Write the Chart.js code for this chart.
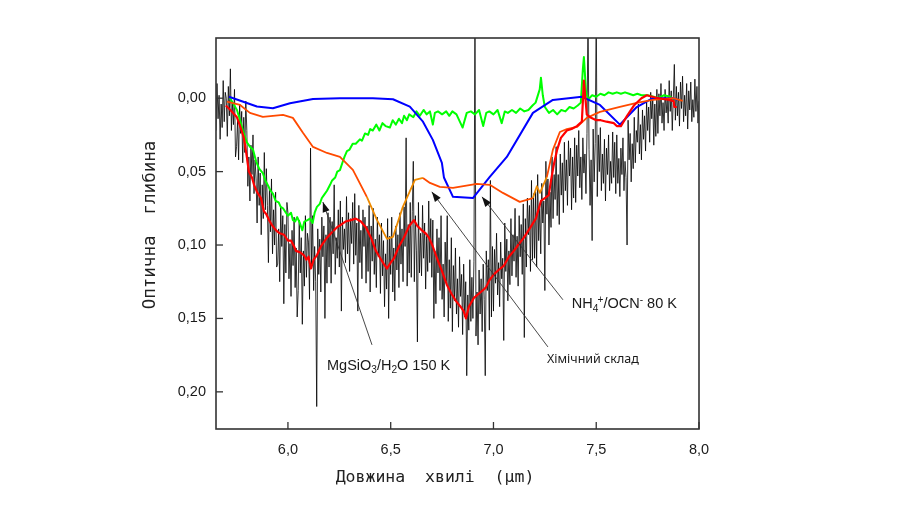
<!DOCTYPE html>
<html><head><meta charset="utf-8">
<script src="https://cdn.jsdelivr.net/npm/chart.js@4.4.0/dist/chart.umd.min.js"></script>
<style>html,body{margin:0;padding:0;background:#fff;}canvas{display:block;}</style>
</head><body>
<canvas id="c" width="899" height="506"></canvas>
<script>
// ---- tick values ----
const xTicks = [6.0, 6.5, 7.0, 7.5, 8.0];
const yTicks = [0.00, 0.05, 0.10, 0.15, 0.20];

// ---- observed spectrum (black) ----
const blackX = [
5.65,5.655,5.66,5.665,5.67,5.675,5.68,5.685,5.69,5.695,
5.7,5.705,5.71,5.715,5.72,5.725,5.73,5.735,5.74,5.745,
5.75,5.755,5.76,5.765,5.77,5.775,5.78,5.785,5.79,5.795,
5.8,5.805,5.81,5.815,5.82,5.825,5.83,5.835,5.84,5.845,
5.85,5.855,5.86,5.865,5.87,5.875,5.88,5.885,5.89,5.895,
5.9,5.905,5.91,5.915,5.92,5.925,5.93,5.935,5.94,5.945,
5.95,5.955,5.96,5.965,5.97,5.975,5.98,5.985,5.99,5.995,
6.0,6.005,6.01,6.015,6.02,6.025,6.03,6.035,6.04,6.045,
6.05,6.055,6.06,6.065,6.07,6.075,6.08,6.085,6.09,6.095,
6.1,6.105,6.11,6.115,6.12,6.125,6.13,6.135,6.14,6.145,
6.15,6.155,6.16,6.165,6.17,6.175,6.18,6.185,6.19,6.195,
6.2,6.205,6.21,6.215,6.22,6.225,6.23,6.235,6.24,6.245,
6.25,6.255,6.26,6.265,6.27,6.275,6.28,6.285,6.29,6.295,
6.3,6.305,6.31,6.315,6.32,6.325,6.33,6.335,6.34,6.345,
6.35,6.355,6.36,6.365,6.37,6.375,6.38,6.385,6.39,6.395,
6.4,6.405,6.41,6.415,6.42,6.425,6.43,6.435,6.44,6.445,
6.45,6.455,6.46,6.465,6.47,6.475,6.48,6.485,6.49,6.495,
6.5,6.505,6.51,6.515,6.52,6.525,6.53,6.535,6.54,6.545,
6.55,6.555,6.56,6.565,6.57,6.575,6.58,6.585,6.59,6.595,
6.6,6.605,6.61,6.615,6.62,6.625,6.63,6.635,6.64,6.645,
6.65,6.655,6.66,6.665,6.67,6.675,6.68,6.685,6.69,6.695,
6.7,6.705,6.71,6.715,6.72,6.725,6.73,6.735,6.74,6.745,
6.75,6.755,6.76,6.765,6.77,6.775,6.78,6.785,6.79,6.795,
6.8,6.805,6.81,6.815,6.82,6.825,6.83,6.835,6.84,6.845,
6.85,6.855,6.86,6.865,6.87,6.875,6.88,6.885,6.89,6.895,
6.9,6.905,6.91,6.915,6.92,6.925,6.93,6.935,6.94,6.945,
6.95,6.955,6.96,6.965,6.97,6.975,6.98,6.985,6.99,6.995,
7.0,7.005,7.01,7.015,7.02,7.025,7.03,7.035,7.04,7.045,
7.05,7.055,7.06,7.065,7.07,7.075,7.08,7.085,7.09,7.095,
7.1,7.105,7.11,7.115,7.12,7.125,7.13,7.135,7.14,7.145,
7.15,7.155,7.16,7.165,7.17,7.175,7.18,7.185,7.19,7.195,
7.2,7.205,7.21,7.215,7.22,7.225,7.23,7.235,7.24,7.245,
7.25,7.255,7.26,7.265,7.27,7.275,7.28,7.285,7.29,7.295,
7.3,7.305,7.31,7.315,7.32,7.325,7.33,7.335,7.34,7.345,
7.35,7.355,7.36,7.365,7.37,7.375,7.38,7.385,7.39,7.395,
7.4,7.405,7.41,7.415,7.42,7.425,7.43,7.435,7.44,7.445,
7.45,7.455,7.46,7.465,7.47,7.475,7.48,7.485,7.49,7.495,
7.5,7.505,7.51,7.515,7.52,7.525,7.53,7.535,7.54,7.545,
7.55,7.555,7.56,7.565,7.57,7.575,7.58,7.585,7.59,7.595,
7.6,7.605,7.61,7.615,7.62,7.625,7.63,7.635,7.64,7.645,
7.65,7.655,7.66,7.665,7.67,7.675,7.68,7.685,7.69,7.695,
7.7,7.705,7.71,7.715,7.72,7.725,7.73,7.735,7.74,7.745,
7.75,7.755,7.76,7.765,7.77,7.775,7.78,7.785,7.79,7.795,
7.8,7.805,7.81,7.815,7.82,7.825,7.83,7.835,7.84,7.845,
7.85,7.855,7.86,7.865,7.87,7.875,7.88,7.885,7.89,7.895,
7.9,7.905,7.91,7.915,7.92,7.925,7.93,7.935,7.94,7.945,
7.95,7.955,7.96,7.965,7.97,7.975,7.98,7.985,7.99,7.995,
8.0];
const blackY = [
0.022,-0.010,0.014,-0.002,0.028,0.004,0.020,-0.012,0.016,-0.004,
0.000,0.026,-0.008,0.012,-0.020,0.022,0.002,0.018,-0.006,0.040,
0.033,0.015,0.042,0.004,0.024,0.009,0.044,0.013,0.037,0.002,
0.022,0.060,0.040,0.070,0.032,0.052,0.025,0.065,0.042,0.055,
0.085,0.040,0.073,0.051,0.093,0.059,0.082,0.037,0.076,0.048,
0.073,0.112,0.061,0.091,0.055,0.106,0.076,0.100,0.064,0.115,
0.113,0.089,0.125,0.074,0.101,0.080,0.140,0.086,0.119,0.071,
0.078,0.123,0.099,0.135,0.090,0.114,0.081,0.129,0.102,0.149,
0.131,0.083,0.119,0.095,0.154,0.104,0.128,0.080,0.122,0.092,
0.098,0.137,0.034,0.116,0.080,0.131,0.101,0.125,0.210,0.089,
0.120,0.096,0.132,0.081,0.108,0.087,0.150,0.093,0.126,0.078,
0.115,0.081,0.126,0.084,0.106,0.059,0.120,0.095,0.109,0.076,
0.115,0.070,0.145,0.081,0.103,0.089,0.112,0.067,0.106,0.078,
0.118,0.082,0.099,0.071,0.113,0.065,0.107,0.085,0.145,0.073,
0.112,0.090,0.123,0.076,0.101,0.081,0.126,0.087,0.118,0.073,
0.132,0.087,0.111,0.075,0.120,0.096,0.129,0.081,0.108,0.093,
0.133,0.085,0.121,0.097,0.142,0.106,0.130,0.082,0.150,0.094,
0.120,0.081,0.132,0.102,0.138,0.087,0.117,0.093,0.129,0.078,
0.113,0.089,0.125,0.074,0.101,0.027,0.128,0.086,0.119,0.071,
0.122,0.077,0.043,0.125,0.080,0.104,0.166,0.071,0.119,0.092,
0.121,0.073,0.109,0.085,0.130,0.094,0.118,0.070,0.112,0.082,
0.122,0.083,0.150,0.104,0.140,0.089,0.119,0.095,0.131,0.080,
0.137,0.113,0.149,0.098,0.125,0.080,0.152,0.110,0.143,0.095,
0.159,0.114,0.138,0.102,0.147,0.123,0.156,0.108,0.135,0.120,
0.161,0.113,0.149,0.125,0.189,0.134,0.158,0.110,0.152,0.122,
0.150,0.111,-0.060,0.162,0.132,0.168,0.117,0.147,0.123,0.159,
0.113,0.137,0.189,0.104,0.131,0.110,0.158,0.056,0.149,0.101,
0.145,0.103,0.126,0.092,0.134,0.112,0.142,0.098,0.123,0.109,
0.165,0.085,0.118,0.096,0.138,0.104,0.127,0.082,0.121,0.093,
0.111,0.075,0.122,0.094,0.128,0.080,0.108,0.086,0.120,0.072,
0.163,0.082,0.115,0.068,0.093,0.073,0.118,0.056,0.110,0.065,
0.109,0.064,0.115,0.052,0.097,0.073,0.106,0.058,0.085,0.070,
0.131,0.043,0.079,0.055,0.100,0.064,0.088,0.040,0.082,0.052,
0.069,0.033,0.080,0.052,0.086,0.038,0.066,0.044,0.078,0.030,
0.063,0.042,0.073,0.029,0.053,0.034,0.076,0.040,0.068,0.027,
0.071,0.032,0.053,0.022,0.061,0.040,0.069,0.027,0.051,0.038,
0.065,0.024,-0.060,0.035,0.073,0.042,0.097,0.021,0.057,0.031,
-0.060,0.067,0.025,0.050,0.020,0.063,0.038,0.058,0.028,0.070,
0.034,0.052,0.025,0.063,0.043,0.058,0.023,0.054,0.030,0.065,
0.025,0.058,0.041,0.067,0.034,0.052,0.027,0.063,0.043,0.054,
0.100,0.015,0.042,0.024,0.057,0.031,0.048,0.013,0.044,0.022,
0.030,0.004,0.038,0.018,0.042,0.008,0.028,0.012,0.036,0.002,
0.022,0.006,0.030,-0.004,0.014,0.000,0.032,0.004,0.026,-0.006,
0.024,-0.003,0.012,-0.010,0.017,0.003,0.022,-0.006,0.010,0.001,
0.017,-0.012,0.009,-0.005,0.022,0.000,-0.023,0.015,-0.008,0.012,
-0.004,0.019,-0.011,0.007,-0.015,0.016,-0.002,0.012,-0.010,0.021,
-0.005,0.008,-0.011,0.016,0.001,0.013,-0.013,0.009,-0.008,0.017,
0.002];

// ---- chemical composition model (red) ----
const redX = [5.698,5.72,5.752,5.77,5.786,5.80,5.81,5.825,5.835,5.85,5.869,5.883,5.895,5.908,5.925,5.942,5.96,5.981,6.00,6.015,
6.03,6.039,6.06,6.078,6.09,6.10,6.112,6.125,6.141,6.16,6.19,6.21,6.238,6.26,6.28,6.306,6.33,6.355,6.38,6.404,
6.428,6.445,6.467,6.482,6.50,6.516,6.54,6.564,6.59,6.613,6.63,6.652,6.67,6.686,6.705,6.725,6.75,6.773,6.795,6.817,
6.84,6.855,6.866,6.88,6.905,6.93,6.963,6.98,7.002,7.025,7.051,7.075,7.099,7.12,7.148,7.175,7.206,7.231,7.25,7.269,
7.28,7.294,7.31,7.328,7.357,7.38,7.406,7.43,7.44,7.454,7.47,7.50,7.522,7.55,7.586,7.60,7.62,7.65,7.683,7.72,
7.746,7.80,7.85,7.877,7.88,7.892];
const redY = [0.005,0.008,0.013,0.020,0.027,0.040,0.050,0.054,0.059,0.064,0.068,0.077,0.079,0.083,0.087,0.090,0.092,0.093,0.097,0.097,
0.101,0.104,0.105,0.107,0.110,0.108,0.116,0.110,0.107,0.101,0.095,0.092,0.088,0.086,0.084,0.083,0.082,0.084,0.088,0.095,
0.104,0.108,0.113,0.116,0.112,0.109,0.101,0.095,0.087,0.083,0.087,0.090,0.092,0.095,0.101,0.109,0.118,0.127,0.133,0.138,
0.142,0.145,0.150,0.142,0.136,0.133,0.129,0.124,0.120,0.117,0.114,0.108,0.104,0.100,0.095,0.089,0.082,0.070,0.068,0.066,
0.056,0.045,0.035,0.027,0.022,0.021,0.019,0.016,-0.012,0.011,0.013,0.015,0.015,0.016,0.017,0.019,0.019,0.012,0.005,0.000,
-0.002,0.000,0.001,0.002,0.006,0.006];

// ---- MgSiO3/H2O 150 K (green) ----
const greenX = [5.718,5.735,5.752,5.765,5.781,5.79,5.80,5.815,5.83,5.845,5.86,5.878,5.89,5.905,5.915,5.927,5.94,5.955,5.965,5.976,
5.99,6.00,6.015,6.024,6.035,6.045,6.058,6.07,6.08,6.095,6.107,6.12,6.13,6.141,6.155,6.165,6.175,6.19,6.205,6.215,
6.23,6.24,6.253,6.265,6.275,6.287,6.30,6.315,6.33,6.35,6.36,6.375,6.39,6.40,6.413,6.43,6.445,6.46,6.475,6.496,
6.51,6.525,6.54,6.555,6.565,6.579,6.59,6.61,6.625,6.642,6.66,6.675,6.691,6.705,6.715,6.73,6.75,6.77,6.785,6.80,
6.82,6.85,6.87,6.89,6.91,6.93,6.95,6.965,6.98,7.00,7.02,7.04,7.055,7.07,7.09,7.11,7.13,7.15,7.17,7.19,
7.205,7.225,7.231,7.24,7.25,7.27,7.29,7.31,7.33,7.35,7.37,7.39,7.41,7.425,7.435,7.44,7.45,7.46,7.48,7.50,
7.52,7.54,7.56,7.58,7.60,7.62,7.64,7.66,7.68,7.70,7.72,7.75,7.78,7.80,7.83,7.86,7.87,7.88];
const greenY = [0.000,0.004,0.008,0.014,0.022,0.026,0.030,0.033,0.035,0.043,0.048,0.051,0.056,0.060,0.063,0.065,0.070,0.071,0.074,0.075,
0.078,0.080,0.078,0.083,0.084,0.081,0.085,0.090,0.084,0.083,0.082,0.085,0.078,0.074,0.072,0.068,0.066,0.063,0.059,0.056,
0.054,0.050,0.049,0.044,0.040,0.036,0.035,0.031,0.031,0.028,0.029,0.024,0.025,0.021,0.022,0.018,0.022,0.017,0.019,0.020,
0.015,0.018,0.014,0.017,0.012,0.015,0.011,0.013,0.009,0.012,0.008,0.011,0.009,0.018,0.010,0.009,0.011,0.009,0.012,0.009,
0.011,0.020,0.010,0.009,0.011,0.008,0.019,0.010,0.009,0.011,0.008,0.017,0.009,0.010,0.008,0.010,0.007,0.009,0.008,0.005,
0.003,-0.006,-0.014,-0.002,0.006,0.010,0.008,0.011,0.008,0.009,0.006,0.007,0.005,0.003,-0.020,-0.028,-0.005,0.001,-0.002,-0.001,
-0.003,-0.002,-0.004,-0.003,-0.004,-0.003,-0.004,-0.003,-0.002,-0.003,-0.002,-0.002,-0.001,0.000,-0.002,-0.001,0.000,0.002];

// ---- NH4+/OCN- 80 K (blue) ----
const blueX = [5.713,5.849,5.927,6.010,6.122,6.253,6.413,6.511,6.593,6.657,6.705,6.749,6.759,6.803,6.900,6.982,7.065,7.192,7.289,7.430,7.518,7.615,7.697,7.775,7.873,7.897];
const blueY = [-0.001,0.0057,0.0068,0.0034,0.0005,0.000,0.000,0.0007,0.0057,0.016,0.0284,0.044,0.054,0.0672,0.068,0.0536,0.040,0.010,0.0012,-0.001,0.0046,0.018,0.006,0.000,0.000,0.001];

// ---- combined laboratory fit (orange) ----
const orangeX = [5.703,5.767,5.815,5.878,5.976,6.024,6.073,6.122,6.190,6.253,6.316,6.384,6.433,6.482,6.511,6.559,6.618,6.657,6.691,6.739,
6.803,6.919,6.982,7.046,7.128,7.192,7.211,7.226,7.260,7.289,7.323,7.357,7.406,7.454,7.518,7.615,7.697,7.775,7.873,7.921];
const orangeY = [0.0023,0.0046,0.010,0.0127,0.0114,0.0134,0.0236,0.0332,0.0373,0.040,0.0488,0.0672,0.0829,0.0958,0.0945,0.074,0.0557,0.0543,0.0577,0.0604,
0.0611,0.0584,0.059,0.0645,0.0706,0.068,0.060,0.0645,0.0536,0.0352,0.023,0.021,0.0196,0.0134,0.0093,0.0059,0.0032,0.0012,0.000,0.0018];

const pts = (xs, ys) => xs.map((v, i) => ({x: v, y: ys[i]}));

const annotations = [
  {tail: [6.409, 0.168], tip: [6.170, 0.0707], at: [6.190, 0.1825],
   parts: [['MgSiO'],['3','sub'],['/H'],['2','sub'],['O 150 K']], font: 'Liberation Sans', size: 14.5},
  {tail: [7.338, 0.1373], tip: [6.944, 0.0672], at: [7.381, 0.1405],
   parts: [['NH'],['4','sub'],['+','sup'],['/OCN'],['-','sup'],[' 80 K']], font: 'Liberation Sans', size: 14.5},
  {tail: [7.265, 0.1694], tip: [6.700, 0.0638], at: [7.260, 0.178],
   parts: [['Хімічний склад']], font: 'Noto Sans', size: 12.5}
];

function drawRich(ctx, parts, x, y, font, size) {
  ctx.textBaseline = 'middle';
  ctx.textAlign = 'left';
  let cx = x;
  let prevSubW = 0;
  parts.forEach(([t, kind]) => {
    let s = size, dy = 0;
    if (kind === 'sub') { s = size * 0.7; dy = size * 0.3; }
    if (kind === 'sup') { s = size * 0.7; dy = -size * 0.32; }
    ctx.font = s + 'px "' + font + '"';
    if (kind === 'sup' && prevSubW) { cx -= prevSubW * 0.15; }
    ctx.fillText(t, cx, y + dy);
    const w = ctx.measureText(t).width;
    cx += w;
    prevSubW = kind === 'sub' ? w : 0;
  });
}

const decor = {
  id: 'decor',
  afterDatasetsDraw(chart) {
    const {ctx, chartArea: a, scales: {x, y}} = chart;
    ctx.save();
    ctx.strokeStyle = '#333';
    ctx.lineWidth = 1.6;
    ctx.strokeRect(a.left, a.top, a.right - a.left, a.bottom - a.top);
    ctx.lineWidth = 1.3;
    xTicks.forEach(v => {
      const p = x.getPixelForValue(v);
      ctx.beginPath(); ctx.moveTo(p, a.bottom); ctx.lineTo(p, a.bottom - 7); ctx.stroke();
    });
    yTicks.forEach(v => {
      const p = y.getPixelForValue(v);
      ctx.beginPath(); ctx.moveTo(a.left, p); ctx.lineTo(a.left + 7, p); ctx.stroke();
    });
    annotations.forEach(an => {
      const x1 = x.getPixelForValue(an.tail[0]), y1 = y.getPixelForValue(an.tail[1]);
      const x2 = x.getPixelForValue(an.tip[0]), y2 = y.getPixelForValue(an.tip[1]);
      ctx.strokeStyle = '#333'; ctx.fillStyle = '#111'; ctx.lineWidth = 0.9;
      ctx.beginPath(); ctx.moveTo(x1, y1); ctx.lineTo(x2, y2); ctx.stroke();
      const ang = Math.atan2(y2 - y1, x2 - x1), L = 10, W = 3.6;
      ctx.beginPath();
      ctx.moveTo(x2, y2);
      ctx.lineTo(x2 - L * Math.cos(ang) + W * Math.sin(ang), y2 - L * Math.sin(ang) - W * Math.cos(ang));
      ctx.lineTo(x2 - L * Math.cos(ang) - W * Math.sin(ang), y2 - L * Math.sin(ang) + W * Math.cos(ang));
      ctx.closePath(); ctx.fill();
      ctx.fillStyle = '#1a1a1a';
      drawRich(ctx, an.parts, x.getPixelForValue(an.at[0]), y.getPixelForValue(an.at[1]), an.font, an.size);
    });
    ctx.fillStyle = '#222';
    ctx.textAlign = 'center'; ctx.textBaseline = 'middle';
    ctx.font = '16.5px "DejaVu Sans Mono"';
    ctx.fillText('Довжина  хвилі  (μm)', 435, 478);
    ctx.translate(150, 225);
    ctx.rotate(-Math.PI / 2);
    ctx.font = '17.5px "DejaVu Sans Mono"';
    ctx.fillText('Оптична  глибина', 0, 0);
    ctx.restore();
  }
};

const common = {showLine: true, pointRadius: 0, tension: 0, fill: false, borderJoinStyle: 'round'};

new Chart(document.getElementById('c'), {
  type: 'scatter',
  data: {
    datasets: [
      {...common, label: 'Хімічний склад', data: pts(redX, redY), borderColor: '#ff0000', borderWidth: 2.2, order: 0},
      {...common, label: 'fit', data: pts(orangeX, orangeY), borderColor: '#ff4a00', borderWidth: 1.8, order: 1,
        segment: {borderColor: c => {
          const v = c.p0.parsed.x;
          return (v >= 6.38 && v < 6.62) || (v >= 7.19 && v < 7.25) ? '#ee8a00' : '#ff4a00';
        }}},
      {...common, label: 'NH4+/OCN- 80 K', data: pts(blueX, blueY), borderColor: '#0000ff', borderWidth: 2, order: 2},
      {...common, label: 'MgSiO3/H2O 150 K', data: pts(greenX, greenY), borderColor: '#00ff00', borderWidth: 2, order: 3},
      {...common, label: 'observed', data: pts(blackX, blackY), borderColor: '#000000', borderWidth: 0.8, order: 4}
    ]
  },
  options: {
    responsive: false, animation: false, devicePixelRatio: 1,
    layout: {padding: {left: 0, top: 38, right: 200, bottom: 0}},
    plugins: {legend: {display: false}, tooltip: {enabled: false}},
    scales: {
      x: {
        type: 'linear', min: 5.65, max: 8.0,
        afterFit: s => { s.height = 77; },
        afterBuildTicks: s => { s.ticks = xTicks.map(v => ({value: v})); },
        grid: {display: false}, border: {display: false},
        ticks: {padding: 4, autoSkip: false, maxRotation: 0, color: '#1a1a1a',
          font: {family: 'Liberation Sans', size: 14.5},
          callback: v => v.toFixed(1).replace('.', ',')}
      },
      y: {
        type: 'linear', min: -0.041, max: 0.2253, reverse: true,
        afterFit: s => { s.width = 216; },
        afterBuildTicks: s => { s.ticks = yTicks.map(v => ({value: v})); },
        grid: {display: false, drawTicks: false}, border: {display: false},
        ticks: {padding: 10, color: '#1a1a1a',
          font: {family: 'Liberation Sans', size: 14.5},
          callback: v => v.toFixed(2).replace('.', ',')}
      }
    }
  },
  plugins: [decor]
});
</script>
</body></html>
